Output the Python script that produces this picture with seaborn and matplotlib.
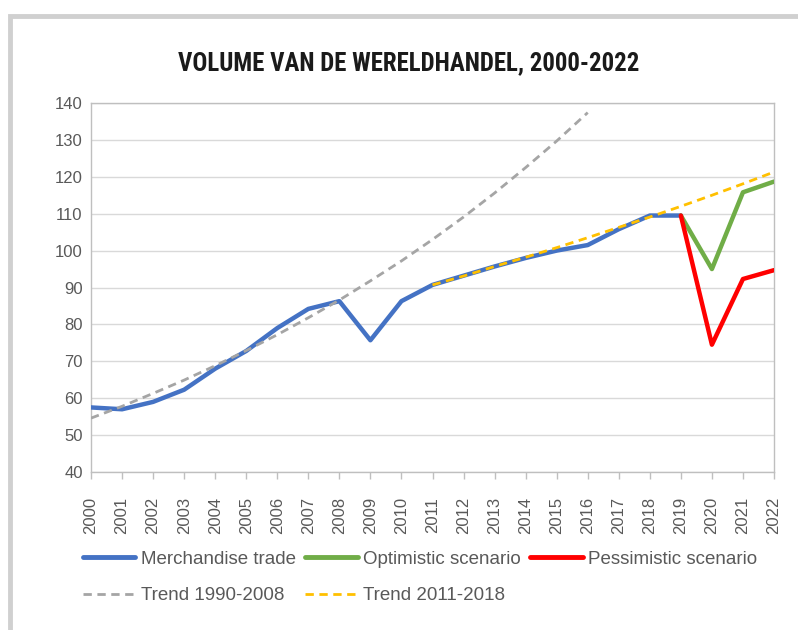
import numpy as np
import pandas as pd
import matplotlib
matplotlib.use("Agg")
import matplotlib.pyplot as plt
import seaborn as sns
from matplotlib import font_manager as fm
from matplotlib.patches import Rectangle
from matplotlib.lines import Line2D

# Data
years = list(range(2000, 2023))
merchandise = [57.5, 57.0, 59.0, 62.3, 68.0, 72.8, 79.0, 84.2, 86.3, 75.7,
               86.3, 90.7, 93.2, 95.7, 98.0, 100.0, 101.5, 105.8, 109.5, 109.5]
scen_years = [2019, 2020, 2021, 2022]
optimistic = [109.5, 95.0, 115.8, 118.7]
pessimistic = [109.5, 74.5, 92.3, 94.7]
trend1_years = list(range(2000, 2017))
trend1 = [54.6, 57.8, 61.3, 64.9, 68.8, 72.9, 77.2, 81.8, 86.6, 91.8,
          97.2, 103.0, 109.1, 115.6, 122.5, 129.7, 137.4]
trend2_years = list(range(2011, 2023))
trend2 = [90.7, 93.1, 95.7, 98.2, 100.8, 103.5, 106.3, 109.1, 112.0, 115.0, 118.1, 121.3]

sns.set_theme(style="white")
plt.rcParams['font.family'] = ['Liberation Sans', 'DejaVu Sans']

grey_txt = '#595959'
c_blue, c_green, c_red = '#4472C4', '#70AD47', '#FF0000'
c_grey, c_yellow = '#A5A5A5', '#FFC000'

fig = plt.figure(figsize=(7.98, 6.30), dpi=100)
ax = fig.add_axes([91/798, 1 - 472/630, (774 - 91)/798, (472 - 103)/630])

# buitenkader (alleen links en boven zichtbaar)
fig.patches.append(Rectangle((10/798, -0.2), 1.2, 1.2 - 16/630,
                             transform=fig.transFigure, fill=False,
                             edgecolor='#D0D0D0', linewidth=3.5, zorder=0))

sns.lineplot(x=years[:len(merchandise)], y=merchandise, ax=ax, color=c_blue, lw=3.2, zorder=3)
sns.lineplot(x=scen_years, y=optimistic, ax=ax, color=c_green, lw=3.2, zorder=3)
sns.lineplot(x=scen_years, y=pessimistic, ax=ax, color=c_red, lw=3.2, zorder=4)
sns.lineplot(x=trend1_years, y=trend1, ax=ax, color=c_grey, lw=2, zorder=5)
sns.lineplot(x=trend2_years, y=trend2, ax=ax, color=c_yellow, lw=2, zorder=5)
ax.lines[3].set_linestyle((0, (3, 2)))
ax.lines[4].set_linestyle((0, (3, 2)))

ax.set_xlim(2000, 2022)
ax.set_ylim(40, 140)
ax.set_xticks(years)
ax.set_xticklabels([str(y) for y in years], rotation=90, fontsize=12, color=grey_txt)
ax.set_yticks(range(40, 141, 10))
ax.set_yticklabels([str(v) for v in range(40, 141, 10)], fontsize=12, color=grey_txt)
ax.tick_params(axis='x', length=5, width=1, color='#BFBFBF', direction='out', bottom=True, pad=13)
ax.tick_params(axis='y', length=0, pad=6)
ax.grid(axis='y', color='#D9D9D9', lw=1)
ax.grid(axis='x', visible=False)
ax.set_axisbelow(True)
for s in ax.spines.values():
    s.set_color('#BFBFBF')
    s.set_linewidth(1)

# titel in een smal (condensed) lettertype als dat er is
names = {f.name for f in fm.fontManager.ttflist}
title_kw = dict(fontweight='bold', family='DejaVu Sans', fontstretch='condensed')
for cand in ['Liberation Sans Narrow', 'Roboto Condensed', 'Open Sans Condensed']:
    if cand in names:
        title_kw = dict(fontweight='bold', family=cand)
        break
title = fig.text(409/798, 1 - 63/630, 'VOLUME VAN DE WERELDHANDEL, 2000-2022',
                 ha='center', va='center', fontsize=24, color='#1a1a1a', **title_kw)
fig.canvas.draw()
w = title.get_window_extent().width
title.set_fontsize(24 * 462 / w)

handles = [
    Line2D([], [], color=c_blue, lw=3.5),
    Line2D([], [], color=c_grey, lw=2, ls=(0, (3, 2))),
    Line2D([], [], color=c_green, lw=3.5),
    Line2D([], [], color=c_yellow, lw=2, ls=(0, (3, 2))),
    Line2D([], [], color=c_red, lw=3.5),
]
labels = ['Merchandise trade', 'Trend 1990-2008', 'Optimistic scenario',
          'Trend 2011-2018', 'Pessimistic scenario']
leg = fig.legend(handles, labels, ncol=3, loc='upper left',
                 bbox_to_anchor=(75/798, 1 - 543/630), frameon=False,
                 fontsize=13.5, handlelength=2.8, handletextpad=0.3,
                 columnspacing=0.5, labelspacing=1.05, borderaxespad=0)
for t in leg.get_texts():
    t.set_color(grey_txt)

fig.savefig('out.png', dpi=100)
